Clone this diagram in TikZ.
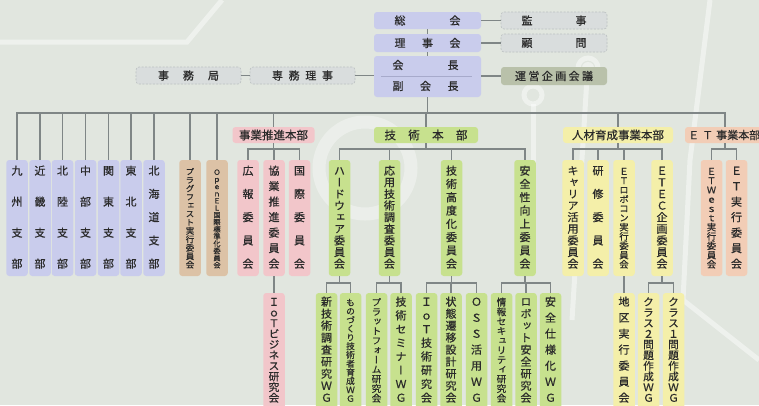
\documentclass[tikz,border=0pt]{standalone}
\usepackage{fontspec}
\newfontfamily\jp[FakeBold=0.6]{Noto Sans CJK JP}
\newfontfamily\jpv[RawFeature=+vert,FakeBold=0.6]{Noto Sans CJK JP}
\definecolor{bgc}{HTML}{E1E6DF}
\definecolor{cblue}{HTML}{C9CCEC}
\definecolor{cpink}{HTML}{F2C6CA}
\definecolor{cgreen}{HTML}{C7E18E}
\definecolor{cyellow}{HTML}{F4EFA9}
\definecolor{cbrown}{HTML}{DCC2A6}
\definecolor{cpeach}{HTML}{F2CDB6}
\definecolor{cgray}{HTML}{D9DDDD}
\definecolor{cgrayb}{HTML}{BCC1C1}
\definecolor{cun}{HTML}{B9C1AA}
\definecolor{cln}{HTML}{7F8686}
\definecolor{txt}{HTML}{2A2A2A}
\definecolor{cdiv}{HTML}{A7AACB}
\tikzset{
  ln/.style={draw=cln, line width=1.6pt},
  hb/.style={rounded corners=3pt, inner sep=0pt, text=txt, font=\jp\fontsize{11}{11}\selectfont},
  hbig/.style={hb, font=\jp\fontsize{11.5}{11.5}\selectfont},
  htxt/.style={inner sep=0pt, text=txt, font=\jp\fontsize{11}{11}\selectfont},
  dashbox/.style={fill=cgray, draw=cgrayb, line width=0.6pt, dash pattern=on 2pt off 1.5pt},
  vbx/.style={rounded corners=3pt, minimum width=21.5pt, inner sep=0pt},
  vch/.style={inner sep=0pt, text=txt, text height=0.88em, text depth=0.12em},
  deco/.style={draw=white, opacity=0.45, line width=5pt}
}
\newcommand\vcol[8]{%
  \node[vbx,#7,minimum height={#4-#3}] (#1) at (#2,{(#3+#4)/2}) {};
  \foreach \c [count=\i] in {#8} {\xdef\myvn{\i}}%
  \pgfmathsetmacro\myvs{(#6-#5)/max(\myvn-1,1)}%
  \pgfmathsetmacro\myfs{min(11,\myvs)}%
  \foreach \c [count=\i] in {#8} {%
    \pgfmathsetmacro\myyy{#5+(\i-1)*\myvs}%
    \node[vch,font=\jpv\fontsize{\myfs}{\myfs}\selectfont] (#1-\i) at (#2,\myyy) {\c};
  }%
}
\newcommand\lthree[4]{\vcol{#1}{#2}{160}{276}{171}{264}{#3}{#4}}
\newcommand\lfour[4]{\vcol{#1}{#2}{293}{418}{302}{398}{#3}{#4}}
\begin{document}
\begin{tikzpicture}[x=1pt,y=-1pt]
\useasboundingbox (0,0) rectangle (759,405);
\fill[bgc] (0,0) rectangle (759,405);
% background decoration
\draw[deco] (0,42) -- (187,42) -- (222,0);
\draw[deco, line width=13pt, opacity=0.35] (365,168) circle[radius=46pt];
\draw[deco] (533,95) circle[radius=9pt];
\draw[deco] (533,104) -- (533,185);
\fill[white, opacity=0.45] (588,68) circle[radius=6pt];
\draw[deco] (588,68) circle[radius=10pt];
\draw[deco] (587,78) -- (572,320);
\draw[deco] (710,0) -- (690,160) -- (683,300) -- (759,360);

% top level
\node[hb, fill=cblue, minimum width=107pt, minimum height=17pt] (sokai) at (427.5,20.5) {\makebox[66pt][s]{総\hfill 会}};
\node[hb, fill=cblue, minimum width=107pt, minimum height=18pt] (riji) at (427.5,43) {\makebox[66pt][s]{理\hfill 事\hfill 会}};
\node[hb, fill=cblue, minimum width=107pt, minimum height=41pt] (kaicho) at (427.5,76.5) {};
\node[htxt] (kaichoT) at (425.5,65) {\makebox[66pt][s]{会\hfill 長}};
\node[htxt] (fukuT) at (425.5,86) {\makebox[66pt][s]{副\hfill 会\hfill 長}};
\draw[draw=cdiv, line width=0.8pt] ([xshift=7pt]kaicho.west) -- ([xshift=-9pt]kaicho.east);
\node[hb, dashbox, minimum width=106pt, minimum height=17pt] (kanji) at (554,20.5) {\makebox[65pt][s]{監\hfill 事}};
\node[hb, dashbox, minimum width=106pt, minimum height=18pt] (komon) at (554,43) {\makebox[65pt][s]{顧\hfill 問}};
\node[hb, fill=cun, minimum width=106pt, minimum height=18pt] (unei) at (554,76) {\makebox[78pt][s]{運\hfill 営\hfill 企\hfill 画\hfill 会\hfill 議}};
\node[hb, dashbox, minimum width=105pt, minimum height=17pt] (jimu) at (188.5,75.5) {\makebox[61pt][s]{事\hfill 務\hfill 局}};
\node[hb, dashbox, minimum width=105pt, minimum height=17pt] (senmu) at (302.5,75.5) {\makebox[61pt][s]{専\hfill 務\hfill 理\hfill 事}};

\draw[ln] (sokai.east) -- (kanji.west);
\draw[ln] (riji.east) -- (komon.west);
\draw[ln] (unei.west) -- (unei.west -| kaicho.east);
\draw[ln] (senmu.east) -- (senmu.east -| kaicho.west);
\draw[ln] (jimu.east) -- (senmu.west);
\draw[ln] (sokai.south) -- (riji.north);
\draw[ln] (riji.south) -- (kaicho.north);

% level 2
\coordinate (bus) at (0,113);
\coordinate (sb) at (0,149);
\coordinate (sb4) at (0,283);
\node[hbig, fill=cpink, minimum width=82pt, minimum height=16pt] (jigyo) at (273.5,135) {事業推進本部};
\node[hbig, fill=cgreen, minimum width=104pt, minimum height=16pt] (gijutsu) at (426,135) {\makebox[83pt][s]{技\hfill 術\hfill 本\hfill 部}};
\node[hbig, fill=cyellow, minimum width=110pt, minimum height=16pt] (jinzai) at (618,135) {人材育成事業本部};
\node[hbig, fill=cpeach, minimum width=96pt, minimum height=16pt] (etb) at (733,135) {};
\node[htxt, anchor=west, font=\jp\fontsize{11}{11}\selectfont] (etbT) at (688,135) {Ｅ\hspace{3pt}Ｔ\hspace{3pt}事業本部};
\coordinate (etin) at ([xshift=-8pt]etb.north);
\coordinate (etout) at ([xshift=-8pt]etb.south);

% level 3
\lthree{kyushu}{17}{fill=cblue}{九,州,支,部}
\lthree{kinki}{40}{fill=cblue}{近,畿,支,部}
\lthree{hokuriku}{62.5}{fill=cblue}{北,陸,支,部}
\lthree{chubu}{85.5}{fill=cblue}{中,部,支,部}
\lthree{kanto}{108.5}{fill=cblue}{関,東,支,部}
\lthree{tohoku}{131}{fill=cblue}{東,北,支,部}
\lthree{hokkaido}{154}{fill=cblue}{北,海,道,支,部}
\lthree{plug}{190}{fill=cbrown}{プ,ラ,グ,フ,ェ,ス,ト,実,行,委,員,会}
\lthree{openel}{217}{fill=cbrown}{Ｏ,ｐ,ｅ,ｎ,Ｅ,Ｌ,国,際,標,準,化,委,員,会}
\lthree{koho}{248}{fill=cpink}{広,報,委,員,会}
\lthree{kyogyo}{274}{fill=cpink}{協,業,推,進,委,員,会}
\lthree{kokusai}{299.5}{fill=cpink}{国,際,委,員,会}
\lthree{hard}{339.5}{fill=cgreen}{ハ,ー,ド,ウ,ェ,ア,委,員,会}
\lthree{oyo}{389.5}{fill=cgreen}{応,用,技,術,調,査,委,員,会}
\lthree{kodo}{451.5}{fill=cgreen}{技,術,高,度,化,委,員,会}
\lthree{anzen}{525}{fill=cgreen}{安,全,性,向,上,委,員,会}
\lthree{career}{573}{fill=cyellow}{キ,ャ,リ,ア,活,用,委,員,会}
\lthree{kenshu}{598}{fill=cyellow}{研,修,委,員,会}
\lthree{robocon}{624}{fill=cyellow}{Ｅ,Ｔ,ロ,ボ,コ,ン,実,行,委,員,会}
\lthree{etec}{662}{fill=cyellow}{Ｅ,Ｔ,Ｅ,Ｃ,企,画,委,員,会}
\lthree{etwest}{711.5}{fill=cpeach}{Ｅ,Ｔ,Ｗ,ｅ,ｓ,ｔ,実,行,委,員,会}
\lthree{etjikko}{736.5}{fill=cpeach}{Ｅ,Ｔ,実,行,委,員,会}

% level 4
\lfour{iotbiz}{274}{fill=cpink}{Ｉ,ｏ,Ｔ,ビ,ジ,ネ,ス,研,究,会}
\lfour{shingi}{326.5}{fill=cgreen}{新,技,術,調,査,研,究,Ｗ,Ｇ}
\lfour{monozukuri}{350.5}{fill=cgreen}{も,の,づ,く,り,技,術,者,育,成,Ｗ,Ｇ}
\lfour{platform}{376.5}{fill=cgreen}{プ,ラ,ッ,ト,フ,ォ,ー,ム,研,究,会}
\lfour{seminar}{401}{fill=cgreen}{技,術,セ,ミ,ナ,ー,Ｗ,Ｇ}
\lfour{iottech}{426.5}{fill=cgreen}{Ｉ,ｏ,Ｔ,技,術,研,究,会}
\lfour{joutai}{451}{fill=cgreen}{状,態,遷,移,設,計,研,究,会}
\lfour{oss}{476.5}{fill=cgreen}{Ｏ,Ｓ,Ｓ,活,用,Ｗ,Ｇ}
\lfour{security}{501.5}{fill=cgreen}{情,報,セ,キ,ュ,リ,テ,ィ,研,究,会}
\lfour{robot}{526}{fill=cgreen}{ロ,ボ,ッ,ト,安,全,研,究,会}
\lfour{shiyou}{550.5}{fill=cgreen}{安,全,仕,様,化,Ｗ,Ｇ}
\lfour{chiku}{624}{fill=cyellow}{地,区,実,行,委,員,会}
\lfour{class2}{648.5}{fill=cyellow}{ク,ラ,ス,２,問,題,作,成,Ｗ,Ｇ}
\lfour{class1}{673.5}{fill=cyellow}{ク,ラ,ス,１,問,題,作,成,Ｗ,Ｇ}

% main bus
\draw[ln] (kaicho.south) -- (kaicho.south |- bus);
\draw[ln] (kyushu.north) |- (etin |- bus) -- (etin);
\foreach \n in {kinki,hokuriku,chubu,kanto,tohoku,hokkaido,plug,openel,jigyo,gijutsu,jinzai}
  \draw[ln] (\n.north) -- (\n.north |- bus);

% level 2 -> 3
\draw[ln] (koho.north) |- (kokusai.north |- sb) -- (kokusai.north);
\draw[ln] (kyogyo.north) -- (kyogyo.north |- sb);
\draw[ln] (jigyo.south) -- (jigyo.south |- sb);
\draw[ln] (hard.north) |- (anzen.north |- sb) -- (anzen.north);
\draw[ln] (oyo.north) -- (oyo.north |- sb);
\draw[ln] (kodo.north) -- (kodo.north |- sb);
\draw[ln] (gijutsu.south) -- (gijutsu.south |- sb);
\draw[ln] (career.north) |- (etec.north |- sb) -- (etec.north);
\draw[ln] (kenshu.north) -- (kenshu.north |- sb);
\draw[ln] (robocon.north) -- (robocon.north |- sb);
\draw[ln] (jinzai.south) -- (jinzai.south |- sb);
\draw[ln] (etwest.north) |- (etjikko.north |- sb) -- (etjikko.north);
\draw[ln] (etout) -- (etout |- sb);

% level 3 -> 4
\draw[ln] (kyogyo.south) -- (iotbiz.north);
\draw[ln] (shingi.north) |- (monozukuri.north |- sb4) -- (monozukuri.north);
\draw[ln] (hard.south) -- (hard.south |- sb4);
\draw[ln] (platform.north) |- (seminar.north |- sb4) -- (seminar.north);
\draw[ln] (oyo.south) -- (oyo.south |- sb4);
\draw[ln] (iottech.north) |- (oss.north |- sb4) -- (oss.north);
\draw[ln] (joutai.north) -- (joutai.north |- sb4);
\draw[ln] (kodo.south) -- (kodo.south |- sb4);
\draw[ln] (security.north) |- (shiyou.north |- sb4) -- (shiyou.north);
\draw[ln] (robot.north) -- (robot.north |- sb4);
\draw[ln] (anzen.south) -- (anzen.south |- sb4);
\draw[ln] (robocon.south) -- (chiku.north);
\draw[ln] (class2.north) |- (class1.north |- sb4) -- (class1.north);
\draw[ln] (etec.south) -- (etec.south |- sb4);
\end{tikzpicture}
\end{document}
